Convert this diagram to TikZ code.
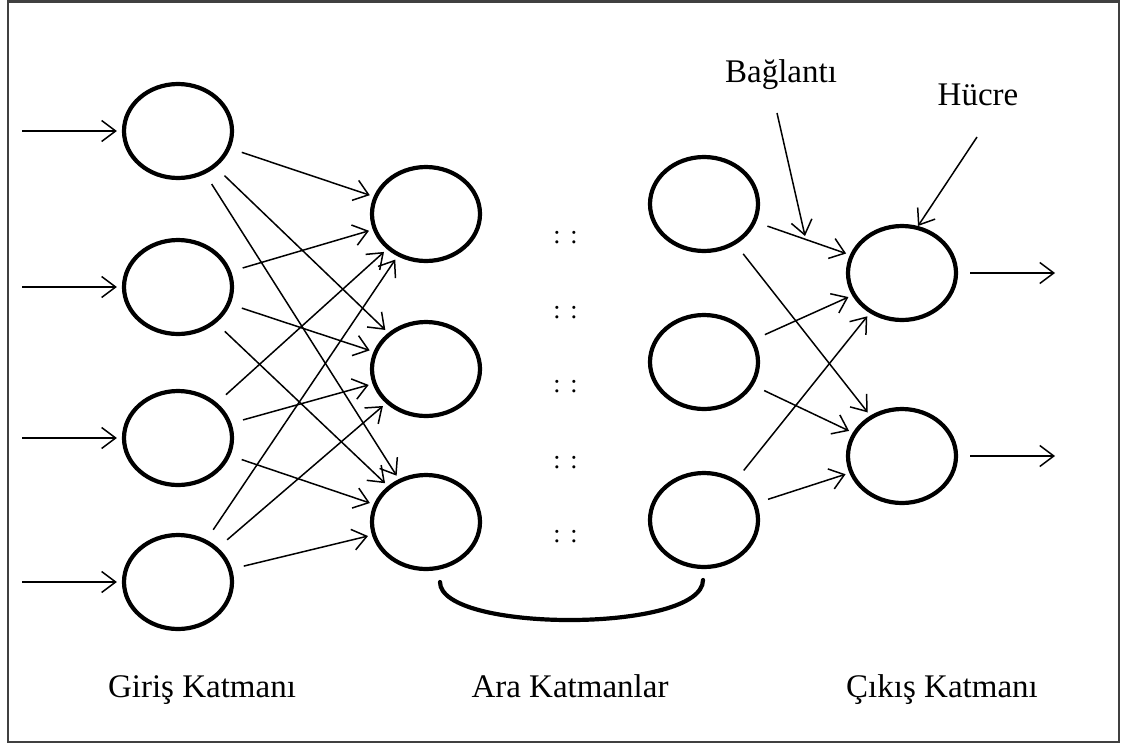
\documentclass[tikz,border=0pt]{standalone}
\usepackage{fontspec}
\setmainfont{Liberation Serif}
\usetikzlibrary{shapes.geometric,arrows.meta}
\begin{document}
\begin{tikzpicture}[x=1pt,y=-1pt,
  neuron/.style={ellipse,draw=black,line width=4.2pt,minimum width=108pt,minimum height=94pt,inner sep=0pt},
  arr/.style={line width=1.5pt,-{Straight Barb[length=14pt,width=21pt,line width=1.5pt]}},
  link/.style={arr,shorten <=12pt,shorten >=4pt},
  lbl/.style={font=\fontsize{33pt}{40pt}\selectfont,inner sep=0pt,anchor=base},
  dots/.style={font=\fontsize{26pt}{30pt}\selectfont,inner sep=0pt}]
\useasboundingbox (0,0) rectangle (1123,747);
\draw[line width=2.5pt,draw=black!75] (8,1.5) rectangle (1119,742);
% input layer
\node[neuron] (i1) at (178,131) {};
\node[neuron] (i2) at (178,287) {};
\node[neuron] (i3) at (178,438) {};
\node[neuron] (i4) at (178,582) {};
% first hidden layer
\node[neuron] (h1) at (426,214) {};
\node[neuron] (h2) at (426,369) {};
\node[neuron] (h3) at (426,522) {};
% last hidden layer
\node[neuron] (g1) at (704,204) {};
\node[neuron] (g2) at (704,362) {};
\node[neuron] (g3) at (704,520) {};
% output layer
\node[neuron] (o1) at (902,273) {};
\node[neuron] (o2) at (902,456) {};
% input arrows
\coordinate (a1) at (22,131);
\coordinate (a2) at (22,287);
\coordinate (a3) at (22,438);
\coordinate (a4) at (22,582);
\foreach \k in {1,2,3,4} {\draw[arr,shorten >=5pt] (a\k) -- (i\k.west);}
% output arrows
\coordinate (b1) at (1055,273);
\coordinate (b2) at (1055,456);
\foreach \k in {1,2} {\draw[arr,shorten <=12pt] (o\k.east) -- (b\k);}
% connections
\foreach \i in {1,2,3,4} {\foreach \j in {1,2,3} {\draw[link] (i\i) -- (h\j);}}
\foreach \i in {1,2,3} {\foreach \j in {1,2} {\draw[link] (g\i) -- (o\j);}}
% dots
\foreach \y [count=\n] in {238,313,387,463,537} {\node[dots] (d\n) at (565.5,\y) {:\kern 9.8pt:};}
% brace
\coordinate (bl) at (440,582);
\coordinate (br) at (703,580);
\draw[line width=4.2pt,line cap=round] (bl) .. controls (440,633) and (703,633) .. (br);
% annotation labels
\node[lbl] (bag) at (781,82) {Bağlantı};
\node[lbl] (huc) at (978,105) {Hücre};
\coordinate (bagFrom) at (777,113);
\coordinate (bagTo) at (805,236);
\coordinate (hucFrom) at (977,137);
\coordinate (hucTo) at (918,226);
\draw[arr] (bagFrom) -- (bagTo);
\draw[arr] (hucFrom) -- (hucTo);
% layer labels
\node[lbl] (l1) at (202,697) {Giriş Katmanı};
\node[lbl] (l2) at (570,697) {Ara Katmanlar};
\node[lbl] (l3) at (942,697) {Çıkış Katmanı};
\end{tikzpicture}
\end{document}
